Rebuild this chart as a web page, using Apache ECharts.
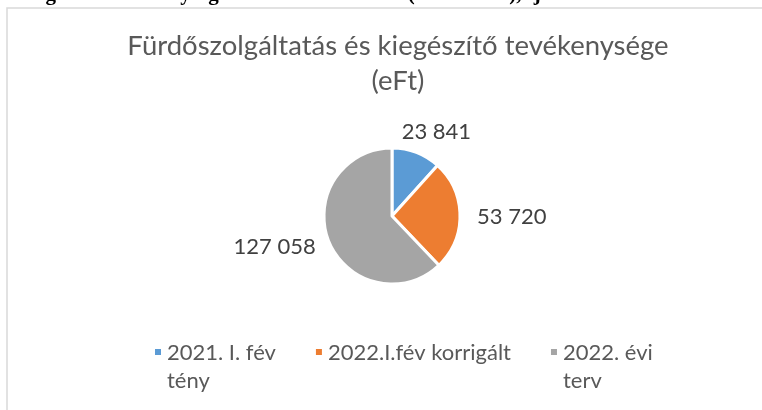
<!DOCTYPE html>
<html>
<head>
<meta charset="utf-8">
<script src="https://cdn.jsdelivr.net/npm/echarts@6/dist/echarts.min.js"></script>
<style>
  html, body { margin: 0; padding: 0; background: #fff; }
  #chart { width: 762px; height: 410px; }
</style>
</head>
<body>
<div id="chart"></div>
<script>
const categories = ['2021. I. fév tény', '2022.I.fév korrigált', '2022. évi terv'];
const legendLines = ['2021. I. fév\ntény', '2022.I.fév korrigált\n ', '2022. évi\nterv'];
const values = [23841, 53720, 127058];
const colors = ['#5b9bd5', '#ed7d31', '#a5a5a5'];
const titleText = 'Fürdőszolgáltatás és kiegészítő tevékenysége\n(eFt)';
const docLine = 'és kiegészítő tevékenysége a bevételei eFt-ban (2021–2022), fj';

const font = 'Lato, "Open Sans", sans-serif';
// square at top, invisible speck at bottom so the marker sits on the first text line
const markerIcon = 'path://M0,0h8v8h-8z M0,38h0.01v0.01h-0.01z';

const chart = echarts.init(document.getElementById('chart'));

const fmt = v => String(v).replace(/\B(?=(\d{3})+(?!\d))/g, ' ');

chart.setOption({
  animation: false,
  backgroundColor: '#fff',
  color: colors,
  graphic: [
    {
      type: 'rect', z: -10,
      shape: { x: 7, y: 8, width: 800, height: 500 },
      style: { fill: '#fff', stroke: '#d9d9d9', lineWidth: 1.5 }
    },
    {
      type: 'text', z: -5, left: -4, top: -16,
      style: { text: docLine, font: 'bold 21px "Liberation Serif", serif', fill: '#000' }
    }
  ],
  title: {
    text: titleText,
    left: 393,
    top: 24,
    textAlign: 'center',
    textStyle: { fontFamily: font, fontSize: 27.5, fontWeight: 'normal', color: '#595959', lineHeight: 35 }
  },
  legend: {
    bottom: 10,
    left: 148,
    itemGap: 38,
    itemWidth: 8,
    itemHeight: 38,
    icon: markerIcon,
    data: categories,
    formatter: name => legendLines[categories.indexOf(name)],
    textStyle: { fontFamily: font, fontSize: 22, color: '#595959', lineHeight: 28, padding: [0, 0, 0, 0] }
  },
  series: [{
    type: 'pie',
    center: [392, 216],
    radius: 68,
    startAngle: 90,
    clockwise: true,
    data: categories.map((c, i) => ({ name: c, value: values[i] })),
    itemStyle: { borderColor: '#fff', borderWidth: 3 },
    label: {
      show: true,
      position: 'outside',
      formatter: p => fmt(p.value),
      fontFamily: font,
      fontSize: 22,
      color: '#404040'
    },
    labelLine: { show: false, length: 12, length2: 0 },
    labelLayout: p => (p.dataIndex === 0 ? { dx: -24, dy: -9 } : p.dataIndex === 1 ? { dy: 2 } : { dx: 3, dy: 1 })
  }]
});
</script>
</body>
</html>
